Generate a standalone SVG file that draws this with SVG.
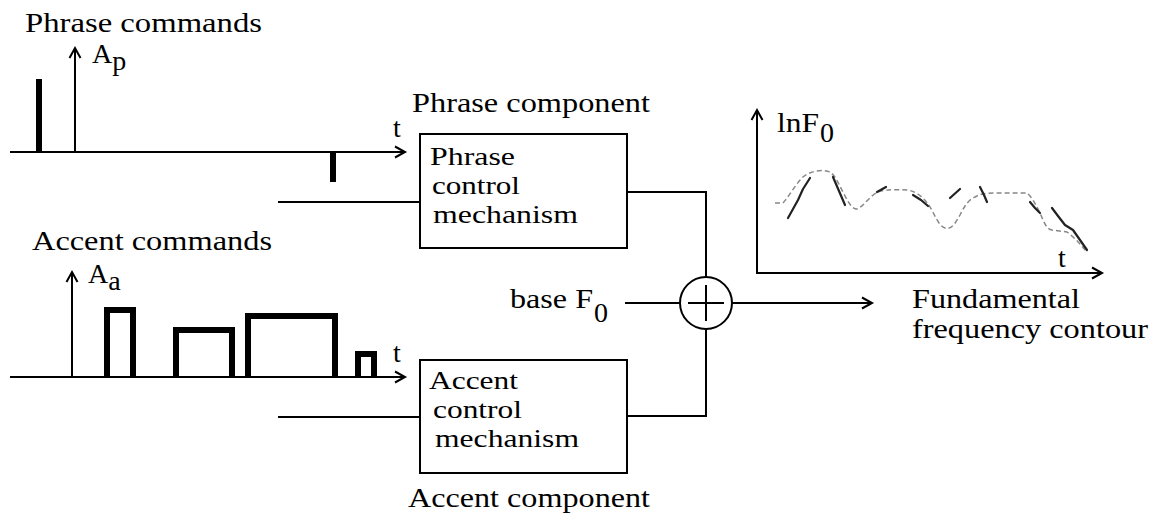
<svg xmlns="http://www.w3.org/2000/svg" width="1160" height="515" viewBox="0 0 1160 515">
<style>
.ln{stroke:#000;stroke-width:2;fill:none}
.pulse{stroke:#000;stroke-width:6;fill:none;stroke-linejoin:miter}
.lbl{font-family:"Liberation Serif","Times New Roman",serif;font-size:28px;fill:#000}
.btxt{font-family:"Liberation Serif","Times New Roman",serif;font-size:26px;fill:#000}
.box{fill:#fff;stroke:#000;stroke-width:2}
.dash{stroke:#888;stroke-width:1.5;fill:none;stroke-dasharray:5 3;stroke-linejoin:round}
.solid{stroke:#222;stroke-width:2.2;fill:none;stroke-linecap:round;stroke-linejoin:round}
</style>
<defs>
<marker id="arr" markerWidth="14" markerHeight="14" refX="11" refY="7" orient="auto" markerUnits="userSpaceOnUse">
<path d="M1,1.5 L11,7 L1,12.5" fill="none" stroke="#000" stroke-width="2"/>
</marker>
</defs>

<g id="phrase-commands">
<text class="lbl" x="25" y="32" textLength="237" lengthAdjust="spacingAndGlyphs">Phrase commands</text>
<line class="ln" x1="10" y1="152" x2="405" y2="152" marker-end="url(#arr)"/>
<line class="ln" x1="75" y1="152" x2="75" y2="48" marker-end="url(#arr)"/>
<text class="lbl" x="92" y="63">A<tspan dy="7">p</tspan></text>
<text class="lbl" x="393" y="137">t</text>
<line class="pulse" x1="39" y1="152" x2="39" y2="79"/>
<line class="pulse" x1="333" y1="152" x2="333" y2="182"/>
</g>

<g id="accent-commands">
<text class="lbl" x="32" y="250" textLength="240" lengthAdjust="spacingAndGlyphs">Accent commands</text>
<line class="ln" x1="10" y1="377" x2="405" y2="377" marker-end="url(#arr)"/>
<line class="ln" x1="72" y1="377" x2="72" y2="272" marker-end="url(#arr)"/>
<text class="lbl" x="88" y="283">A<tspan dy="7">a</tspan></text>
<text class="lbl" x="393" y="362">t</text>
<path class="pulse" d="M107,377 V310 H133 V377"/>
<path class="pulse" d="M176,377 V330 H232 V377"/>
<path class="pulse" d="M248,377 V316 H335 V377"/>
<path class="pulse" d="M358,377 V354 H374 V377"/>
</g>

<g id="phrase-box">
<text class="lbl" x="412" y="112" textLength="238" lengthAdjust="spacingAndGlyphs">Phrase component</text>
<rect class="box" x="420" y="134" width="207" height="114"/>
<text class="btxt" x="430" y="165" textLength="85" lengthAdjust="spacingAndGlyphs">Phrase</text>
<text class="btxt" x="432" y="194" textLength="88" lengthAdjust="spacingAndGlyphs">control</text>
<text class="btxt" x="433" y="223" textLength="145" lengthAdjust="spacingAndGlyphs">mechanism</text>
</g>

<g id="accent-box">
<rect class="box" x="420" y="360" width="207" height="113"/>
<text class="btxt" x="429" y="389" textLength="89" lengthAdjust="spacingAndGlyphs">Accent</text>
<text class="btxt" x="433" y="418" textLength="89" lengthAdjust="spacingAndGlyphs">control</text>
<text class="btxt" x="435" y="447" textLength="144" lengthAdjust="spacingAndGlyphs">mechanism</text>
<text class="lbl" x="408" y="507" textLength="242" lengthAdjust="spacingAndGlyphs">Accent component</text>
</g>

<g id="base-f0">
<text class="lbl" x="510" y="308" textLength="83" lengthAdjust="spacingAndGlyphs">base F</text>
<text class="lbl" x="594" y="322">0</text>
</g>

<g id="adder">
<circle cx="706" cy="303" r="26" fill="#fff" stroke="#000" stroke-width="2"/>
<line class="ln" x1="688" y1="303" x2="724" y2="303"/>
<line class="ln" x1="706" y1="285" x2="706" y2="321"/>
</g>

<g id="connectors">
<line class="ln" x1="278" y1="202" x2="420" y2="202"/>
<line class="ln" x1="278" y1="417" x2="420" y2="417"/>
<polyline class="ln" points="627,192 706,192 706,277"/>
<polyline class="ln" points="627,416 706,416 706,329"/>
<line class="ln" x1="625" y1="303" x2="680" y2="303"/>
<line class="ln" x1="732" y1="303" x2="872" y2="303" marker-end="url(#arr)"/>
</g>

<g id="output-graph">
<line class="ln" x1="757" y1="273" x2="757" y2="110" marker-end="url(#arr)"/>
<line class="ln" x1="756" y1="273" x2="1102" y2="273" marker-end="url(#arr)"/>
<text class="lbl" x="777" y="132" textLength="42" lengthAdjust="spacingAndGlyphs">lnF</text>
<text class="lbl" x="820" y="142">0</text>
<text class="lbl" x="1058" y="267">t</text>
<path class="dash" d="M775,203 L783,203 C790,195 795,185 803,177 C810,171 822,169 830,172 C836,176 840,187 845,196 C849,203 852,209 857,209 C863,207 868,198 876,193 C882,190 890,189 907,190 C915,191 922,196 928,204 C934,212 938,226 945,228 C952,230 956,222 960,215 C964,207 968,200 975,197 C980,194 985,193 995,193 L1027,193 C1032,197 1036,205 1040,213 C1044,222 1046,229 1052,230 L1067,232 C1075,238 1081,245 1087,252"/>
<path class="solid" d="M788,218 L798,200 L803,189 L810,178"/>
<path class="solid" d="M833,177 L839,191 L845,205"/>
<path class="solid" d="M877,192 L886,187"/>
<path class="solid" d="M913,195 L921,200 L928,206"/>
<path class="solid" d="M950,198 L960,189"/>
<path class="solid" d="M980,187 L984,195 L987,202"/>
<path class="solid" d="M1030,202 L1035,208 L1040,213"/>
<path class="solid" d="M1052,208 L1058,216 L1065,225 L1073,230 L1080,240 L1087,250"/>
</g>

<g id="output-label">
<text class="lbl" x="912" y="308" textLength="168" lengthAdjust="spacingAndGlyphs">Fundamental</text>
<text class="lbl" x="912" y="338" textLength="236" lengthAdjust="spacingAndGlyphs">frequency contour</text>
</g>
</svg>
